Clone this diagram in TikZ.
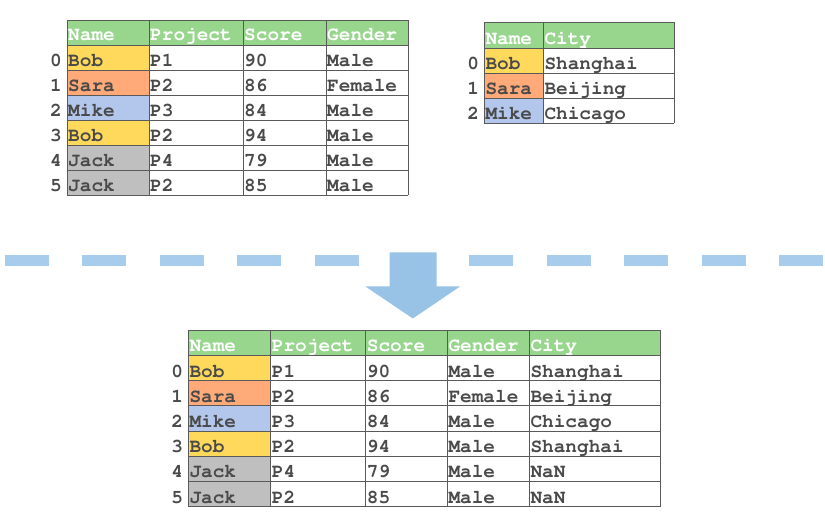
\documentclass[tikz,border=0pt]{standalone}
\usepackage[T1]{fontenc}
\definecolor{hdr}{HTML}{98D68E}
\definecolor{cyel}{HTML}{FFD95C}
\definecolor{corg}{HTML}{FFAA78}
\definecolor{cblu}{HTML}{B3C6EC}
\definecolor{cgry}{HTML}{BFBFBF}
\definecolor{txt}{HTML}{4A4A4A}
\definecolor{gridc}{HTML}{5A5A5A}
\definecolor{dashc}{HTML}{A8CCEB}
\definecolor{arrc}{HTML}{98C3E7}
\newcommand\cellfont{\fontfamily{pcr}\fontseries{b}\fontsize{19.5}{23}\selectfont}
\tikzset{
  cell/.style={anchor=base west, inner sep=0pt, font=\cellfont, text=txt},
  hcell/.style={cell, text=white},
  idx/.style={anchor=base east, inner sep=0pt, font=\cellfont, text=txt},
  gridline/.style={draw=gridc, line width=0.8bp},
}
\begin{document}
\begin{tikzpicture}[x=1bp,y=-1bp]
\useasboundingbox (0,0) rectangle (825,525);

% ---------- Table 1 ----------
\fill[hdr] (67,20) rectangle (408,45);
\fill[cyel] (67,45) rectangle (149,70);
\fill[corg] (67,70) rectangle (149,95);
\fill[cblu] (67,95) rectangle (149,120);
\fill[cyel] (67,120) rectangle (149,145);
\fill[cgry] (67,145) rectangle (149,195);
\foreach \x in {67,149,243,326,408} \draw[gridline] (\x,20) -- (\x,195);
\foreach \y in {20,45,70,95,120,145,170,195} \draw[gridline] (67,\y) -- (408,\y);
\node[hcell] (a-h1) at (68,41) {Name};
\node[hcell] (a-h2) at (150,41) {Project};
\node[hcell] (a-h3) at (244,41) {Score};
\node[hcell] (a-h4) at (327,41) {Gender};
\foreach \n/\p/\s/\g [count=\r from 0] in {Bob/P1/90/Male, Sara/P2/86/Female, Mike/P3/84/Male, Bob/P2/94/Male, Jack/P4/79/Male, Jack/P2/85/Male}{
  \node[idx] (a-i\r) at (62,66.5+25*\r) {\r};
  \node[cell] (a-n\r) at (68,66.5+25*\r) {\n};
  \node[cell] (a-p\r) at (150,66.5+25*\r) {\p};
  \node[cell] (a-s\r) at (244,66.5+25*\r) {\s};
  \node[cell] (a-g\r) at (327,66.5+25*\r) {\g};
}

% ---------- Table 2 ----------
\fill[hdr] (484.3,22.3) rectangle (674.3,48.3);
\fill[cyel] (484.3,48.3) rectangle (543.3,73.3);
\fill[corg] (484.3,73.3) rectangle (543.3,98.3);
\fill[cblu] (484.3,98.3) rectangle (543.3,123.3);
\foreach \x in {484.3,543.3,674.3} \draw[gridline] (\x,22.3) -- (\x,123.3);
\foreach \y in {22.3,48.3,73.3,98.3,123.3} \draw[gridline] (484.3,\y) -- (674.3,\y);
\node[hcell] (b-h1) at (485.3,44.3) {Name};
\node[hcell] (b-h2) at (544.3,44.3) {City};
\foreach \n/\c [count=\r from 0] in {Bob/Shanghai, Sara/Beijing, Mike/Chicago}{
  \node[idx] (b-i\r) at (479.3,69.8+25*\r) {\r};
  \node[cell] (b-n\r) at (485.3,69.8+25*\r) {\n};
  \node[cell] (b-c\r) at (544.3,69.8+25*\r) {\c};
}

% ---------- Divider and arrow ----------
\draw[dashc, line width=10.7bp, dash pattern=on 44bp off 33.4bp] (5,260.3) -- (824,260.3);
\fill[arrc] (389.5,252.5) -- (436.5,252.5) -- (436.5,286.5) -- (460,286.5)
  -- (412.8,318.5) -- (365.5,286.5) -- (389.5,286.5) -- cycle;

% ---------- Table 3 ----------
\fill[hdr] (188.3,330) rectangle (660.7,355.3);
\fill[cyel] (188.3,355.3) rectangle (270.7,380.5);
\fill[corg] (188.3,380.5) rectangle (270.7,405.7);
\fill[cblu] (188.3,405.7) rectangle (270.7,431);
\fill[cyel] (188.3,431) rectangle (270.7,456.2);
\fill[cgry] (188.3,456.2) rectangle (270.7,506.7);
\foreach \x in {188.3,270.7,365.7,447.3,529.3,660.7} \draw[gridline] (\x,330) -- (\x,506.7);
\foreach \y in {330,355.3,380.5,405.7,431,456.2,481.5,506.7} \draw[gridline] (188.3,\y) -- (660.7,\y);
\node[hcell] (c-h1) at (189.3,351.3) {Name};
\node[hcell] (c-h2) at (271.7,351.3) {Project};
\node[hcell] (c-h3) at (366.7,351.3) {Score};
\node[hcell] (c-h4) at (448.3,351.3) {Gender};
\node[hcell] (c-h5) at (530.3,351.3) {City};
\foreach \n/\p/\s/\g/\c [count=\r from 0] in {Bob/P1/90/Male/Shanghai, Sara/P2/86/Female/Beijing, Mike/P3/84/Male/Chicago, Bob/P2/94/Male/Shanghai, Jack/P4/79/Male/NaN, Jack/P2/85/Male/NaN}{
  \node[idx] (c-i\r) at (183.3,377+25.24*\r) {\r};
  \node[cell] (c-n\r) at (189.3,377+25.24*\r) {\n};
  \node[cell] (c-p\r) at (271.7,377+25.24*\r) {\p};
  \node[cell] (c-s\r) at (366.7,377+25.24*\r) {\s};
  \node[cell] (c-g\r) at (448.3,377+25.24*\r) {\g};
  \node[cell] (c-c\r) at (530.3,377+25.24*\r) {\c};
}
\end{tikzpicture}
\end{document}
